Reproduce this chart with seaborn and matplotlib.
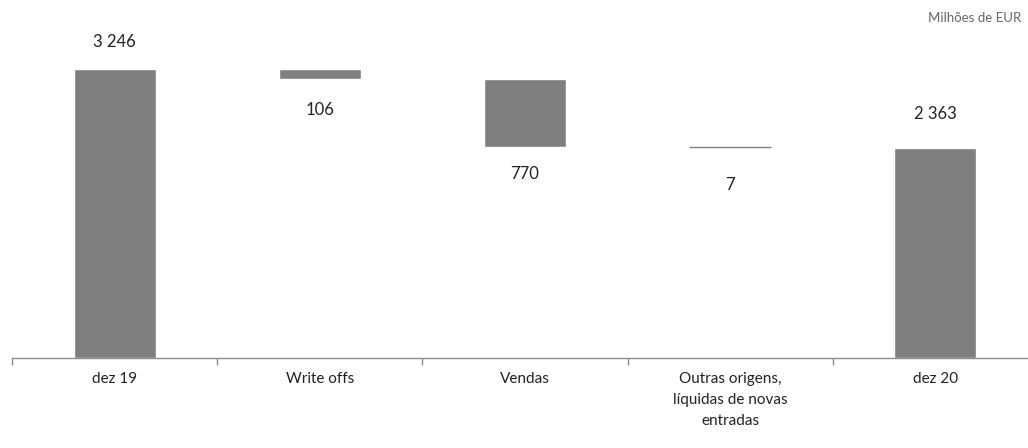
import matplotlib
matplotlib.use("Agg")
import matplotlib.pyplot as plt
import seaborn as sns
import pandas as pd

categories = ["dez 19", "Write offs", "Vendas",
              "Outras origens,\nlíquidas de novas\nentradas", "dez 20"]
values = [3246, -106, -770, -7, 2363]
value_labels = ["3 246", "106", "770", "7", "2 363"]
is_total = [True, False, False, False, True]

# waterfall: floating bars start where the running total left off
bottoms, heights = [], []
running = 0
for v, tot in zip(values, is_total):
    if tot:
        bottoms.append(0)
        heights.append(v)
        running = v
    else:
        running += v
        bottoms.append(running)
        heights.append(-v)

df = pd.DataFrame({"cat": categories, "height": heights, "bottom": bottoms})

sns.set_style("white")
plt.rcParams["font.family"] = ["Lato", "DejaVu Sans"]

fig = plt.figure(figsize=(10.28, 4.48), dpi=100)
ax = fig.add_axes([12 / 1028, 90 / 448, 1026 / 1028, 358 / 448])

sns.barplot(data=df, x="cat", y="height", bottom=df["bottom"].values,
            color="#7f7f7f", saturation=1, width=0.4, errorbar=None, ax=ax)

# tiny change still shows as a thin line
for i, (b, h) in enumerate(zip(bottoms, heights)):
    if h < 20:
        ax.hlines(b + h, i - 0.2, i + 0.2, color="#7f7f7f", lw=1)

# label offsets in points (above totals, below the floating bars)
label_offsets = [19.5, -23, -19.5, -27, 24.5]
for i, (b, h, lab, tot) in enumerate(zip(bottoms, heights, value_labels, is_total)):
    anchor = b + h if tot else b
    ax.annotate(lab, (i, anchor), xytext=(0, label_offsets[i]), textcoords="offset points",
                ha="center", va="center", fontsize=12, color="#222222")

ax.set_xlim(-0.5, 4.5)
ax.set_ylim(0, 4022)
ax.set_xlabel("")
ax.set_ylabel("")
ax.set_yticks([])
for s in ["top", "right", "left"]:
    ax.spines[s].set_visible(False)
ax.spines["bottom"].set_color("#8c8c8c")
ax.spines["bottom"].set_linewidth(1)

ax.set_xticks(range(len(categories)))
ax.set_xticklabels(categories, fontsize=11, color="#222222", linespacing=1.65, va="top")
ax.tick_params(axis="x", which="major", length=0, pad=10)
ax.set_xticks([i - 0.5 for i in range(len(categories) + 1)], minor=True)
ax.tick_params(axis="x", which="minor", bottom=True, length=5, color="#8c8c8c",
               width=1, direction="out")

fig.text(928 / 1028, 1 - 18 / 448, "Milhões de EUR", fontsize=9.5, color="#666666",
         ha="left", va="center")

fig.savefig("out.png", dpi=100)
